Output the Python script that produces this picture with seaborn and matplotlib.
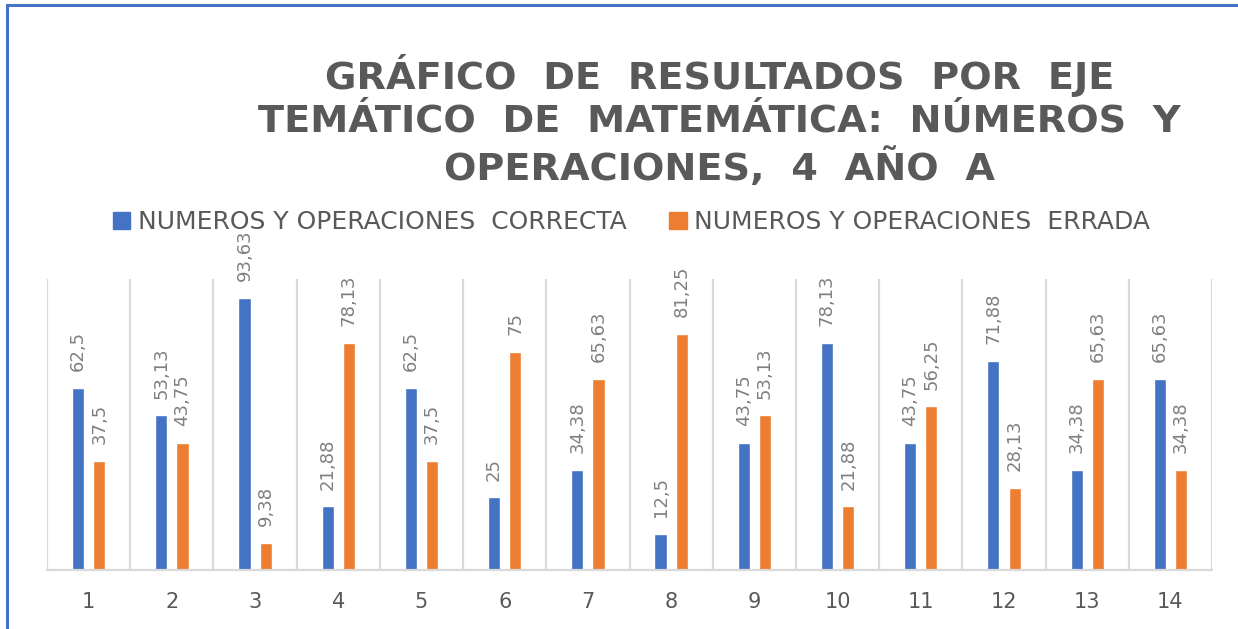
import numpy as np
import pandas as pd
import matplotlib.pyplot as plt
import seaborn as sns
from matplotlib.patches import Rectangle

# Datos
preguntas = [str(i) for i in range(1, 15)]
correcta = [62.5, 53.13, 93.63, 21.88, 62.5, 25, 34.38, 12.5, 43.75, 78.13, 43.75, 71.88, 34.38, 65.63]
errada = [37.5, 43.75, 9.38, 78.13, 37.5, 75, 65.63, 81.25, 53.13, 21.88, 56.25, 28.13, 65.63, 34.38]
series = ["NUMEROS Y OPERACIONES  CORRECTA", "NUMEROS Y OPERACIONES  ERRADA"]
titulo = "GRÁFICO  DE  RESULTADOS  POR  EJE\nTEMÁTICO  DE  MATEMÁTICA:  NÚMEROS  Y\nOPERACIONES,  4  AÑO  A"

df = pd.DataFrame({
    "pregunta": preguntas * 2,
    "valor": correcta + errada,
    "serie": [series[0]] * len(correcta) + [series[1]] * len(errada),
})

sns.set_style("white")
plt.rcParams['font.family'] = ['DejaVu Sans']

gris = "#595959"
gris_claro = "#d9d9d9"

fig = plt.figure(figsize=(12.38, 6.29), dpi=100)
ax = fig.add_axes([0.038, 0.0938, 0.941, 0.4626])

sns.barplot(data=df, x="pregunta", y="valor", hue="serie",
            palette=["#4472C4", "#ED7D31"], width=0.51, gap=0.43,
            ax=ax, legend=False, saturation=1)

ax.set_ylim(0, 100)
ax.set_xlim(-0.5, len(preguntas) - 0.5)
ax.set_xlabel("")
ax.set_ylabel("")
ax.set_yticks([])

# lineas verticales entre categorias
ax.set_xticks(np.arange(len(preguntas) + 1) - 0.5, minor=True)
ax.grid(True, which="minor", axis="x", color=gris_claro, linewidth=1.6)
ax.tick_params(axis="x", which="both", length=0)
ax.tick_params(axis="x", which="major", labelsize=15, labelcolor=gris, pad=16)

for s in ["left", "right", "top"]:
    ax.spines[s].set_visible(False)
ax.spines["bottom"].set_color(gris_claro)
ax.spines["bottom"].set_linewidth(1.6)

# etiquetas de valor
for cont, vals in zip(ax.containers, [correcta, errada]):
    etiquetas = [f"{v:g}".replace(".", ",") for v in vals]
    ax.bar_label(cont, labels=etiquetas, rotation=90, padding=12,
                 fontsize=13, color="#7f7f7f", clip_on=False)

# leyenda
handles = [Rectangle((0, 0), 1, 1, color=c) for c in ["#4472C4", "#ED7D31"]]
fig.legend(handles, series, loc="center", bbox_to_anchor=(0.51, 0.647),
           ncol=2, frameon=False, fontsize=18, labelcolor=gris,
           handlelength=0.7, handleheight=0.7, handletextpad=0.3,
           columnspacing=1.7)

fig.text(0.581, 0.808, titulo, ha="center", va="center", fontsize=27.5,
         fontweight="bold", color=gris, linespacing=1.26)

# borde azul
fig.patches.append(Rectangle((0.0057, -0.05), 1.2, 1.042, transform=fig.transFigure,
                             fill=False, edgecolor="#4472C4", linewidth=2.2))

fig.savefig("out.png", dpi=100)
